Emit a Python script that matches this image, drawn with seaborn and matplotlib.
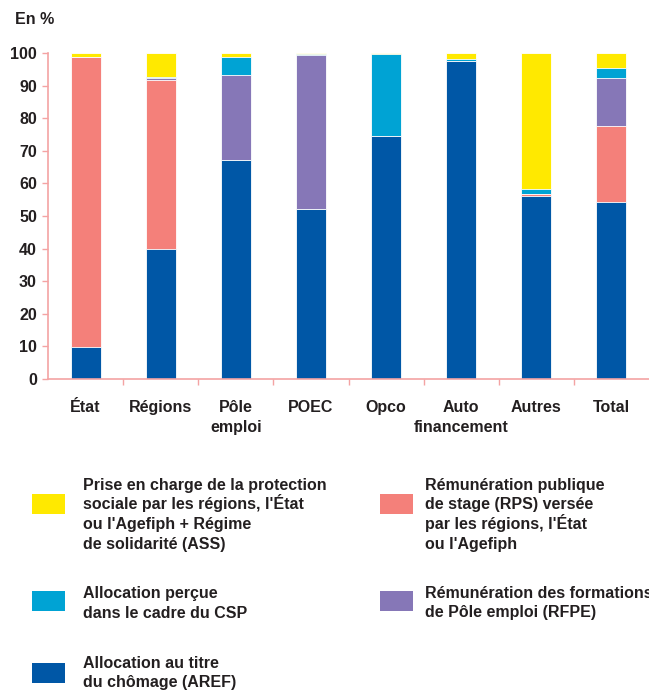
#!/usr/bin/env python3
"""
Stacked bars: income of trainees by type of funding (en %).
"""
import numpy as np
import pandas as pd
import seaborn as sns
import matplotlib.pyplot as plt
from matplotlib.patches import Rectangle

sns.set_theme(style='white')
plt.rcParams['font.family'] = ['Liberation Sans', 'DejaVu Sans']
plt.rcParams['font.weight'] = 'bold'

categories = ['État', 'Régions', 'Pôle\nemploi', 'POEC', 'Opco',
              'Auto\nfinancement', 'Autres', 'Total']
aref = [9.9, 39.8, 67.3, 52.1, 74.5, 97.4, 56.0, 54.4]
rps = [88.8, 51.9, 0.0, 0.0, 0.0, 0.0, 0.7, 23.1]
rfpe = [0.0, 0.5, 25.9, 47.3, 0.0, 0.0, 0.0, 14.8]
csp = [0.0, 0.4, 5.5, 0.3, 25.1, 0.9, 1.7, 3.0]
ass = [1.3, 7.4, 1.3, 0.3, 0.4, 1.7, 41.6, 4.7]

labels = {
    'aref': "Allocation au titre\ndu chômage (AREF)",
    'rps': "Rémunération publique\nde stage (RPS) versée\npar les régions, l'État\nou l'Agefiph",
    'rfpe': "Rémunération des formations\nde Pôle emploi (RFPE)",
    'csp': "Allocation perçue\ndans le cadre du CSP",
    'ass': "Prise en charge de la protection\nsociale par les régions, l'État\nou l'Agefiph + Régime\nde solidarité (ASS)",
}
colors = {'aref': '#0057a6', 'rps': '#f4807a', 'rfpe': '#8677b7',
          'csp': '#00a3d4', 'ass': '#ffe900'}

W, H = 649, 690
SPINE = '#f4a3a3'
TXT = '#231f20'

df = pd.DataFrame({'cat': categories, 'aref': aref, 'rps': rps,
                   'rfpe': rfpe, 'csp': csp, 'ass': ass})
order = ['aref', 'rps', 'rfpe', 'csp', 'ass']
cum = df[order].cumsum(axis=1)

fig = plt.figure(figsize=(W / 100, H / 100), dpi=100)
ax = fig.add_axes([48 / W, 1 - 379 / H, 601 / W, 326 / H])

# draw the cumulative totals from the top layer down so each covers the next
for key in reversed(order):
    sns.barplot(x=df['cat'], y=cum[key], color=colors[key], width=0.4,
                edgecolor='white', linewidth=0.6, saturation=1,
                errorbar=None, ax=ax)

ax.set_xlim(-0.5, 7.5)
ax.set_ylim(0, 100)
ax.set_yticks(range(0, 101, 10))
ax.set_xlabel('')
ax.set_ylabel('')
for side in ['top', 'right']:
    ax.spines[side].set_visible(False)
for side in ['left', 'bottom']:
    ax.spines[side].set_color(SPINE)
    ax.spines[side].set_linewidth(1.2)

ax.tick_params(axis='y', direction='out', length=4, width=1, color=SPINE,
               labelsize=11.5, labelcolor=TXT, pad=4, left=True)
ax.tick_params(axis='x', which='major', length=0, labelsize=11.5,
               labelcolor=TXT, pad=15)
ax.set_xticks(np.arange(0.5, 7.5, 1), minor=True)
ax.tick_params(axis='x', which='minor', direction='out', length=4, width=1,
               color=SPINE, bottom=True)
for t in ax.get_xticklabels() + ax.get_yticklabels():
    t.set_fontweight('bold')
for t in ax.get_xticklabels():
    t.set_linespacing(1.45)

fig.text(15 / W, 1 - 19 / H, 'En %', fontsize=11.5, fontweight='bold',
         color=TXT, ha='left', va='center')

# legend, two columns: (key, patch x, patch centre y, text x, 1st baseline y)
entries = [('ass', 32, 504, 83, 490), ('csp', 32, 601, 83, 598),
           ('aref', 32, 673, 83, 668), ('rps', 380, 504, 425, 490),
           ('rfpe', 380, 601, 425, 598)]
PITCH = 19.5
for key, px, py, tx, ty in entries:
    fig.add_artist(Rectangle((px / W, 1 - (py + 10) / H), 33 / W, 20 / H,
                             transform=fig.transFigure,
                             facecolor=colors[key], edgecolor='none'))
    # one text per line keeps the line pitch even despite accents
    for i, line in enumerate(labels[key].split('\n')):
        fig.text(tx / W, 1 - (ty + i * PITCH) / H, line, fontsize=11.5,
                 fontweight='bold', color=TXT, ha='left', va='baseline')

fig.savefig('out.png', dpi=100)
